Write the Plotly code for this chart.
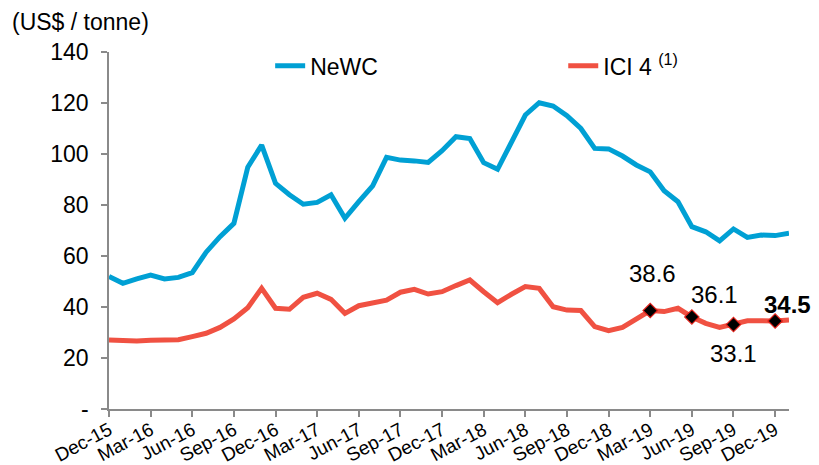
import plotly.graph_objects as go

months = ["Dec-15", "Jan-16", "Feb-16", "Mar-16", "Apr-16", "May-16", "Jun-16", "Jul-16", "Aug-16", "Sep-16",
          "Oct-16", "Nov-16", "Dec-16", "Jan-17", "Feb-17", "Mar-17", "Apr-17", "May-17", "Jun-17", "Jul-17",
          "Aug-17", "Sep-17", "Oct-17", "Nov-17", "Dec-17", "Jan-18", "Feb-18", "Mar-18", "Apr-18", "May-18",
          "Jun-18", "Jul-18", "Aug-18", "Sep-18", "Oct-18", "Nov-18", "Dec-18", "Jan-19", "Feb-19", "Mar-19",
          "Apr-19", "May-19", "Jun-19", "Jul-19", "Aug-19", "Sep-19", "Oct-19", "Nov-19", "Dec-19", "Jan-20"]

newc = [52, 49.3, 51, 52.5, 51, 51.6, 53.5, 61.5, 67.6, 72.8,
        94.8, 103.5, 88.5, 84, 80.3, 81, 84, 74.8, 81.3, 87.5,
        98.7, 97.6, 97.3, 96.7, 101.3, 106.8, 106.1, 96.6, 94, 104.8,
        115.3, 120.1, 118.8, 115, 110, 102.2, 102, 99.2, 95.7, 93,
        85.6, 81.3, 71.5, 69.5, 65.9, 70.6, 67.3, 68.2, 68, 68.9]

ici4 = [27.1, 26.7, 26.7, 27, 27, 27.2, 28.4, 29.7, 32, 35.3,
        39.7, 47.3, 39.5, 39.1, 43.8, 45.4, 43, 37.5, 40.5, 41.7,
        42.7, 45.8, 46.9, 45.1, 46, 48.4, 50.6, 46, 41.7, 45,
        48, 47.3, 40.1, 38.8, 38.6, 32.3, 30.7, 32, 35.3, 38.6,
        38.2, 39.5, 36.1, 33.6, 32, 33.1, 34.6, 34.6, 34.5, 34.9]

highlight_months = ["Mar-19", "Jun-19", "Sep-19", "Dec-19"]
highlight_values = [38.6, 36.1, 33.1, 34.5]
highlight_labels = ["38.6", "36.1", "33.1", "<b>34.5</b>"]
label_offsets = [(2, 37), (23, 22), (0, -29), (12, 17)]

x_tickvals = ["Dec-15", "Mar-16", "Jun-16", "Sep-16", "Dec-16", "Mar-17", "Jun-17", "Sep-17", "Dec-17",
              "Mar-18", "Jun-18", "Sep-18", "Dec-18", "Mar-19", "Jun-19", "Sep-19", "Dec-19"]
y_tickvals = [0, 20, 40, 60, 80, 100, 120, 140]
y_ticktext = ["-", "20", "40", "60", "80", "100", "120", "140"]

BLUE = "#00A0D4"
RED = "#F05142"
AXIS = "#8a8a8a"
FONT = "Liberation Sans, Arial, sans-serif"

fig = go.Figure()
fig.add_trace(go.Scatter(x=months, y=newc, mode="lines", name="NeWC", legend="legend",
                         line=dict(color=BLUE, width=5)))
fig.add_trace(go.Scatter(x=months, y=ici4, mode="lines", name="ICI 4 <sup>(1)</sup>", legend="legend2",
                         line=dict(color=RED, width=5)))
fig.add_trace(go.Scatter(x=highlight_months, y=highlight_values, mode="markers", showlegend=False,
                         marker=dict(symbol="diamond", size=11, color="black",
                                     line=dict(color="#E0201A", width=1.2))))

for m, v, t, (dx, dy) in zip(highlight_months, highlight_values, highlight_labels, label_offsets):
    fig.add_annotation(x=m, y=v, text=t, showarrow=False, xshift=dx, yshift=dy,
                       font=dict(family=FONT, size=24, color="black"))

legend_common = dict(orientation="h", yanchor="middle", xanchor="left", bgcolor="rgba(0,0,0,0)",
                     font=dict(family=FONT, size=23, color="black"))

fig.update_layout(
    width=811, height=457,
    margin=dict(l=101, r=30, t=44, b=56, autoexpand=False),
    paper_bgcolor="white", plot_bgcolor="white",
    font=dict(family=FONT, size=23, color="black"),
    title=dict(text="(US$ / tonne)", x=4 / 811, xanchor="left", xref="container",
               y=1 - 14 / 457, yanchor="middle", yref="container",
               font=dict(family=FONT, size=23, color="black")),
    legend=dict(x=0.237, y=0.961, **legend_common),
    legend2=dict(x=0.668, y=0.961, **legend_common),
    showlegend=True,
)

fig.update_xaxes(type="category", range=[0, len(months) - 1], tickmode="array", tickvals=x_tickvals,
                 ticktext=x_tickvals, tickangle=-28, ticks="outside", ticklen=6, tickwidth=1.5,
                 tickcolor=AXIS, showline=True, linecolor=AXIS, linewidth=1.5, automargin=False,
                 ticklabelstandoff=-5,
                 showgrid=False, zeroline=False, tickfont=dict(family=FONT, size=19, color="black"))
fig.update_yaxes(range=[0, 140], tickmode="array", tickvals=y_tickvals, ticktext=y_ticktext,
                 ticks="outside", ticklen=6, tickwidth=1.5, tickcolor=AXIS, showline=True,
                 linecolor=AXIS, linewidth=1.5, showgrid=False, zeroline=False, automargin=False,
                 ticklabelstandoff=8, tickfont=dict(family=FONT, size=23, color="black"))

fig.write_html("out.html")
